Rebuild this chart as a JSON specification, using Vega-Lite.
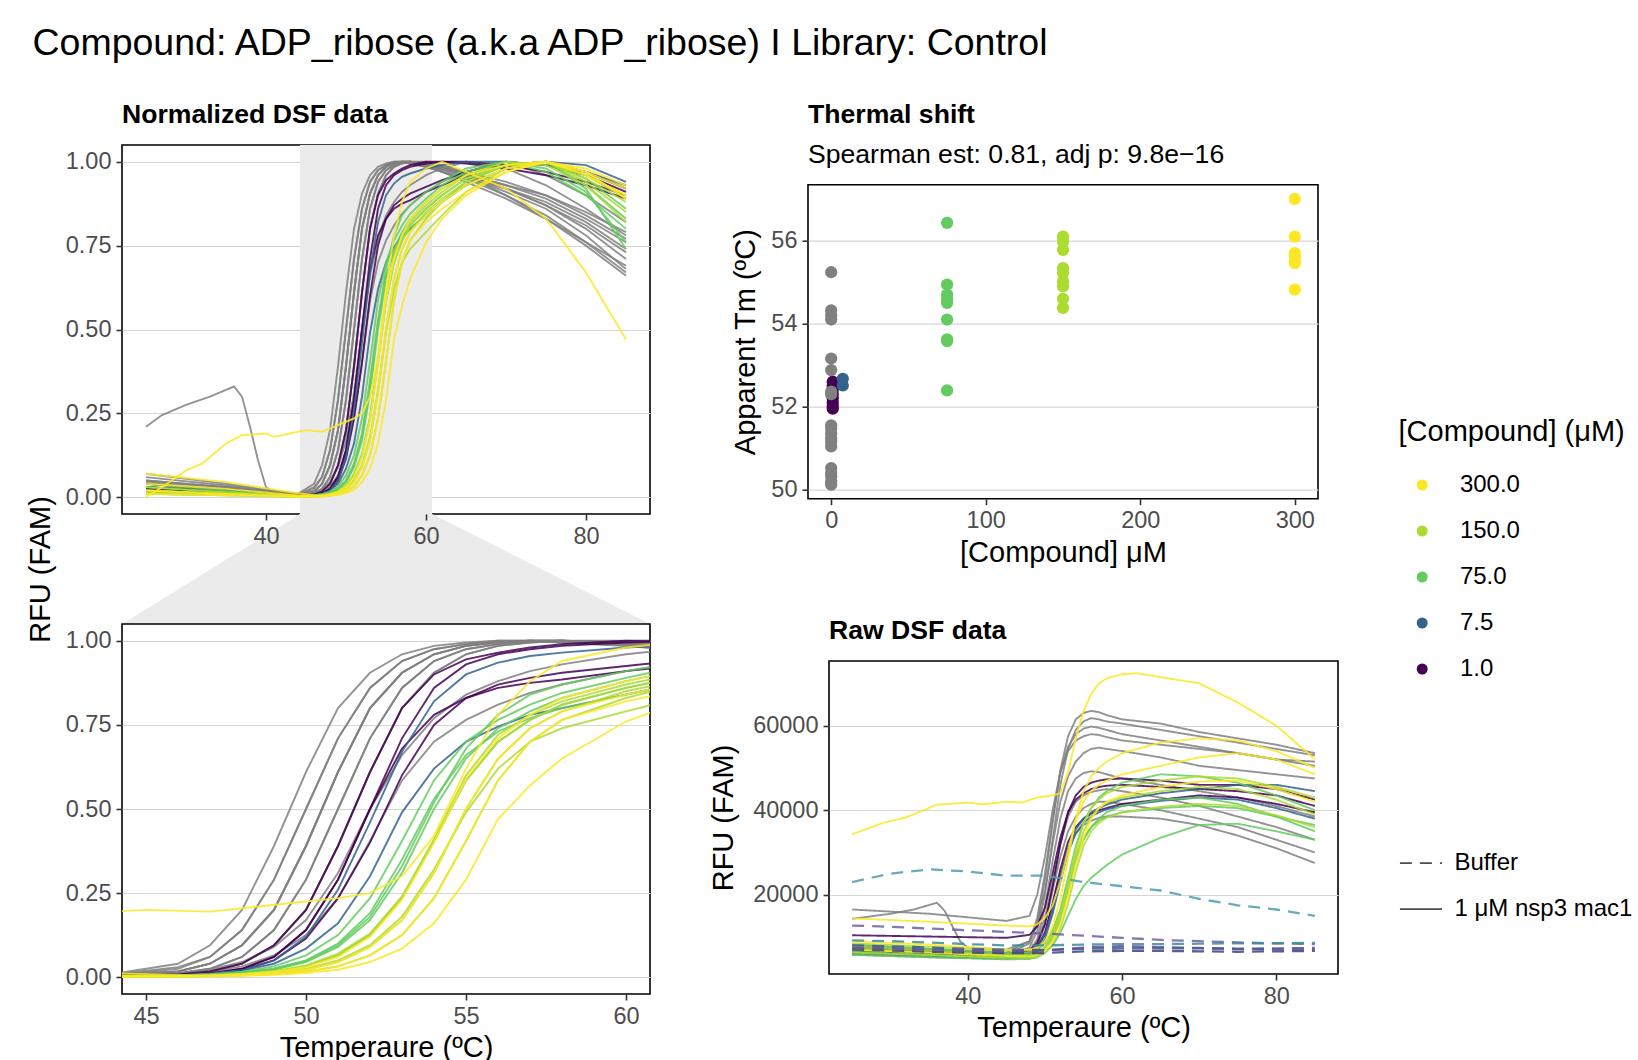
{
"$schema":"https://vega.github.io/schema/vega-lite/v6.json",
"padding":{"left":25,"top":25,"right":5,"bottom":5},
"background":"white",
"title":{"text":"Compound: ADP_ribose (a.k.a ADP_ribose) I Library: Control","fontSize":37.5,"fontWeight":"normal","frame":"bounds","anchor":"start","offset":39,"dx":7},
"config":{
"font":"Liberation Sans",
"view":{"stroke":"black","strokeWidth":1.6},
"axis":{"labelFont":"Liberation Sans","labelFontSize":23.5,"labelColor":"#4D4D4D","titleFont":"Liberation Sans","titleFontSize":29,"titleFontWeight":"normal","titleColor":"black","tickColor":"#333333","tickSize":6,"tickWidth":1.6,"domain":false,"grid":false,"labelPadding":4,"labelFlush":false,"gridColor":"#D6D6D6","gridWidth":1.2},
"axisY":{"grid":true,"labelPadding":5},
"title":{"anchor":"start","frame":"group","font":"Liberation Sans","fontSize":26.6,"fontWeight":"bold","color":"black","subtitleFont":"Liberation Sans","subtitleFontSize":26.6,"subtitleColor":"black"},
"legend":{"titleFont":"Liberation Sans","titleFontSize":29,"titleFontWeight":"normal","titleColor":"black","labelFont":"Liberation Sans","labelFontSize":24,"labelColor":"black","titleLimit":400,"labelLimit":400},
"line":{"strokeWidth":1.9,"opacity":0.85}
},
"datasets":{
"win":[{"t":44.25,"t2":60.75,"v":-0.05,"v2":1.05}],
"trap":[{"t":44.25,"t2":60.75,"v":-0.05},{"t":22,"t2":88,"v":-0.378}],
"curves":[{"i":"g1","c":"0"},{"i":"g2","c":"0"},{"i":"g3","c":"0"},{"i":"g4","c":"0"},{"i":"g5","c":"0"},{"i":"g6","c":"0"},{"i":"g7","c":"0"},{"i":"g8","c":"0"},{"i":"g9","c":"0"},{"i":"g10","c":"0"},{"i":"g11","c":"0"},{"i":"g12","c":"0"},{"i":"p1","c":"1.0"},{"i":"p2","c":"1.0"},{"i":"p3","c":"1.0"},{"i":"p4","c":"1.0"},{"i":"b1","c":"7.5"},{"i":"b2","c":"7.5"},{"i":"gr1","c":"75.0"},{"i":"gr2","c":"75.0"},{"i":"gr3","c":"75.0"},{"i":"gr4","c":"75.0"},{"i":"gr5","c":"75.0"},{"i":"l1","c":"150.0"},{"i":"l2","c":"150.0"},{"i":"l3","c":"150.0"},{"i":"l4","c":"150.0"},{"i":"l5","c":"150.0"},{"i":"y1","c":"300.0"},{"i":"y2","c":"300.0"},{"i":"y3","c":"300.0"},{"i":"y4","c":"300.0"},{"i":"y5","c":"300.0"},
{"i":"rg1","c":"0"},{"i":"rg2","c":"0"},{"i":"rg3","c":"0"},{"i":"rg4","c":"0"},{"i":"rg5","c":"0"},{"i":"rg6","c":"0"},{"i":"rg7","c":"0"},{"i":"rg8","c":"0"},{"i":"rg9","c":"0"},{"i":"rp1","c":"1.0"},{"i":"rp2","c":"1.0"},{"i":"rp3","c":"1.0"},{"i":"rb1","c":"7.5"},{"i":"rb2","c":"7.5"},{"i":"rgr1","c":"75.0"},{"i":"rgr2","c":"75.0"},{"i":"rgr3","c":"75.0"},{"i":"rgr4","c":"75.0"},{"i":"rl1","c":"150.0"},{"i":"rl2","c":"150.0"},{"i":"rl3","c":"150.0"},{"i":"ry1","c":"300.0"},{"i":"ry2","c":"300.0"},{"i":"ry3","c":"300.0"},{"i":"ry4","c":"300.0"},
{"i":"bt","c":"Bt"},{"i":"bp","c":"Bp"},{"i":"bt2","c":"Bt2"},{"i":"bb1","c":"Bb1"},{"i":"bb2","c":"Bb2"},{"i":"bp2","c":"Bp2"}],
"norm":[
{"i":"g1","t":25,"v":0.05},{"i":"g1","t":35,"v":0.03},{"i":"g1","t":44,"v":0.008},{"i":"g1","t":46,"v":0.03},{"i":"g1","t":47,"v":0.06},{"i":"g1","t":48,"v":0.14},{"i":"g1","t":49,"v":0.29},{"i":"g1","t":50,"v":0.5},{"i":"g1","t":51,"v":0.71},{"i":"g1","t":52,"v":0.86},{"i":"g1","t":53,"v":0.94},{"i":"g1","t":54,"v":0.975},{"i":"g1","t":55,"v":0.99},{"i":"g1","t":56,"v":0.997},{"i":"g1","t":57,"v":1},{"i":"g1","t":58,"v":1},{"i":"g1","t":60,"v":0.99},{"i":"g1","t":62,"v":0.975},{"i":"g1","t":65,"v":0.955},{"i":"g1","t":70,"v":0.91},{"i":"g1","t":75,"v":0.86},{"i":"g1","t":80,"v":0.78},{"i":"g1","t":85,"v":0.68},
{"i":"g2","t":25,"v":0.03},{"i":"g2","t":35,"v":0.02},{"i":"g2","t":44,"v":0.006},{"i":"g2","t":46,"v":0.025},{"i":"g2","t":47,"v":0.06},{"i":"g2","t":48,"v":0.14},{"i":"g2","t":49,"v":0.29},{"i":"g2","t":50,"v":0.5},{"i":"g2","t":51,"v":0.71},{"i":"g2","t":52,"v":0.86},{"i":"g2","t":53,"v":0.94},{"i":"g2","t":54,"v":0.975},{"i":"g2","t":55,"v":0.99},{"i":"g2","t":56,"v":1},{"i":"g2","t":57,"v":1},{"i":"g2","t":58,"v":0.995},{"i":"g2","t":60,"v":0.985},{"i":"g2","t":62,"v":0.97},{"i":"g2","t":65,"v":0.95},{"i":"g2","t":70,"v":0.92},{"i":"g2","t":75,"v":0.88},{"i":"g2","t":80,"v":0.82},{"i":"g2","t":85,"v":0.74},
{"i":"g3","t":25,"v":0.06},{"i":"g3","t":35,"v":0.035},{"i":"g3","t":44,"v":0.01},{"i":"g3","t":46,"v":0.017},{"i":"g3","t":47,"v":0.04},{"i":"g3","t":48,"v":0.095},{"i":"g3","t":49,"v":0.2},{"i":"g3","t":50,"v":0.39},{"i":"g3","t":51,"v":0.61},{"i":"g3","t":52,"v":0.8},{"i":"g3","t":53,"v":0.905},{"i":"g3","t":54,"v":0.96},{"i":"g3","t":55,"v":0.985},{"i":"g3","t":56,"v":0.995},{"i":"g3","t":57,"v":1},{"i":"g3","t":58,"v":1},{"i":"g3","t":60,"v":0.99},{"i":"g3","t":62,"v":0.98},{"i":"g3","t":65,"v":0.96},{"i":"g3","t":70,"v":0.93},{"i":"g3","t":75,"v":0.89},{"i":"g3","t":80,"v":0.83},{"i":"g3","t":85,"v":0.76},
{"i":"g4","t":25,"v":0.02},{"i":"g4","t":35,"v":0.015},{"i":"g4","t":44,"v":0.005},{"i":"g4","t":46,"v":0.017},{"i":"g4","t":47,"v":0.04},{"i":"g4","t":48,"v":0.095},{"i":"g4","t":49,"v":0.2},{"i":"g4","t":50,"v":0.39},{"i":"g4","t":51,"v":0.61},{"i":"g4","t":52,"v":0.8},{"i":"g4","t":53,"v":0.905},{"i":"g4","t":54,"v":0.96},{"i":"g4","t":55,"v":0.985},{"i":"g4","t":56,"v":0.995},{"i":"g4","t":57,"v":0.998},{"i":"g4","t":58,"v":1},{"i":"g4","t":60,"v":0.995},{"i":"g4","t":62,"v":0.985},{"i":"g4","t":65,"v":0.965},{"i":"g4","t":70,"v":0.92},{"i":"g4","t":75,"v":0.87},{"i":"g4","t":80,"v":0.8},{"i":"g4","t":85,"v":0.71},
{"i":"g5","t":25,"v":0.04},{"i":"g5","t":35,"v":0.025},{"i":"g5","t":44,"v":0.006},{"i":"g5","t":46,"v":0.011},{"i":"g5","t":47,"v":0.025},{"i":"g5","t":48,"v":0.06},{"i":"g5","t":49,"v":0.14},{"i":"g5","t":50,"v":0.29},{"i":"g5","t":51,"v":0.5},{"i":"g5","t":52,"v":0.71},{"i":"g5","t":53,"v":0.86},{"i":"g5","t":54,"v":0.94},{"i":"g5","t":55,"v":0.975},{"i":"g5","t":56,"v":0.99},{"i":"g5","t":57,"v":0.997},{"i":"g5","t":58,"v":1},{"i":"g5","t":60,"v":0.995},{"i":"g5","t":62,"v":0.985},{"i":"g5","t":65,"v":0.965},{"i":"g5","t":70,"v":0.93},{"i":"g5","t":75,"v":0.9},{"i":"g5","t":80,"v":0.85},{"i":"g5","t":85,"v":0.79},
{"i":"g6","t":25,"v":0.07},{"i":"g6","t":35,"v":0.04},{"i":"g6","t":44,"v":0.01},{"i":"g6","t":46,"v":0.012},{"i":"g6","t":47,"v":0.025},{"i":"g6","t":48,"v":0.06},{"i":"g6","t":49,"v":0.14},{"i":"g6","t":50,"v":0.29},{"i":"g6","t":51,"v":0.5},{"i":"g6","t":52,"v":0.71},{"i":"g6","t":53,"v":0.86},{"i":"g6","t":54,"v":0.94},{"i":"g6","t":55,"v":0.975},{"i":"g6","t":56,"v":0.99},{"i":"g6","t":57,"v":1},{"i":"g6","t":58,"v":1},{"i":"g6","t":60,"v":0.99},{"i":"g6","t":62,"v":0.98},{"i":"g6","t":65,"v":0.96},{"i":"g6","t":70,"v":0.9},{"i":"g6","t":75,"v":0.84},{"i":"g6","t":80,"v":0.76},{"i":"g6","t":85,"v":0.67},
{"i":"g7","t":25,"v":0.03},{"i":"g7","t":35,"v":0.02},{"i":"g7","t":44,"v":0.005},{"i":"g7","t":46,"v":0.008},{"i":"g7","t":47,"v":0.017},{"i":"g7","t":48,"v":0.04},{"i":"g7","t":49,"v":0.095},{"i":"g7","t":50,"v":0.2},{"i":"g7","t":51,"v":0.39},{"i":"g7","t":52,"v":0.61},{"i":"g7","t":53,"v":0.8},{"i":"g7","t":54,"v":0.905},{"i":"g7","t":55,"v":0.96},{"i":"g7","t":56,"v":0.985},{"i":"g7","t":57,"v":0.995},{"i":"g7","t":58,"v":1},{"i":"g7","t":60,"v":1},{"i":"g7","t":62,"v":0.99},{"i":"g7","t":65,"v":0.97},{"i":"g7","t":70,"v":0.94},{"i":"g7","t":75,"v":0.9},{"i":"g7","t":80,"v":0.84},{"i":"g7","t":85,"v":0.77},
{"i":"g8","t":25,"v":0.03},{"i":"g8","t":35,"v":0.015},{"i":"g8","t":44,"v":0.004},{"i":"g8","t":46,"v":0.012},{"i":"g8","t":47,"v":0.022},{"i":"g8","t":48,"v":0.045},{"i":"g8","t":49,"v":0.09},{"i":"g8","t":50,"v":0.17},{"i":"g8","t":51,"v":0.31},{"i":"g8","t":52,"v":0.5},{"i":"g8","t":53,"v":0.66},{"i":"g8","t":54,"v":0.77},{"i":"g8","t":55,"v":0.84},{"i":"g8","t":56,"v":0.88},{"i":"g8","t":57,"v":0.91},{"i":"g8","t":58,"v":0.93},{"i":"g8","t":60,"v":0.96},{"i":"g8","t":62,"v":0.98},{"i":"g8","t":65,"v":1},{"i":"g8","t":70,"v":0.98},{"i":"g8","t":75,"v":0.93},{"i":"g8","t":80,"v":0.86},{"i":"g8","t":85,"v":0.78},
{"i":"g9","t":25,"v":0.02},{"i":"g9","t":35,"v":0.01},{"i":"g9","t":44,"v":0.003},{"i":"g9","t":46,"v":0.009},{"i":"g9","t":47,"v":0.016},{"i":"g9","t":48,"v":0.032},{"i":"g9","t":49,"v":0.065},{"i":"g9","t":50,"v":0.125},{"i":"g9","t":51,"v":0.235},{"i":"g9","t":52,"v":0.405},{"i":"g9","t":53,"v":0.585},{"i":"g9","t":54,"v":0.7},{"i":"g9","t":55,"v":0.765},{"i":"g9","t":56,"v":0.81},{"i":"g9","t":57,"v":0.845},{"i":"g9","t":58,"v":0.87},{"i":"g9","t":60,"v":0.91},{"i":"g9","t":62,"v":0.94},{"i":"g9","t":65,"v":0.97},{"i":"g9","t":70,"v":1},{"i":"g9","t":75,"v":0.96},{"i":"g9","t":80,"v":0.9},{"i":"g9","t":85,"v":0.82},
{"i":"g10","t":25,"v":0.21},{"i":"g10","t":27,"v":0.245},{"i":"g10","t":30,"v":0.275},{"i":"g10","t":33,"v":0.3},{"i":"g10","t":35,"v":0.32},{"i":"g10","t":36,"v":0.33},{"i":"g10","t":37,"v":0.3},{"i":"g10","t":38,"v":0.21},{"i":"g10","t":39,"v":0.11},{"i":"g10","t":40,"v":0.03},{"i":"g10","t":41,"v":0.015},{"i":"g10","t":44,"v":0.005},{"i":"g10","t":46,"v":0.017},{"i":"g10","t":47,"v":0.04},{"i":"g10","t":48,"v":0.095},{"i":"g10","t":49,"v":0.2},{"i":"g10","t":50,"v":0.39},{"i":"g10","t":51,"v":0.61},{"i":"g10","t":52,"v":0.8},{"i":"g10","t":53,"v":0.905},{"i":"g10","t":54,"v":0.96},{"i":"g10","t":55,"v":0.985},{"i":"g10","t":56,"v":0.995},{"i":"g10","t":57,"v":1},{"i":"g10","t":58,"v":1},{"i":"g10","t":60,"v":0.99},{"i":"g10","t":62,"v":0.97},{"i":"g10","t":65,"v":0.95},{"i":"g10","t":70,"v":0.9},{"i":"g10","t":75,"v":0.83},{"i":"g10","t":80,"v":0.75},{"i":"g10","t":85,"v":0.66},
{"i":"g11","t":25,"v":0.045},{"i":"g11","t":35,"v":0.03},{"i":"g11","t":44,"v":0.01},{"i":"g11","t":46,"v":0.04},{"i":"g11","t":47,"v":0.095},{"i":"g11","t":48,"v":0.2},{"i":"g11","t":49,"v":0.39},{"i":"g11","t":50,"v":0.61},{"i":"g11","t":51,"v":0.8},{"i":"g11","t":52,"v":0.905},{"i":"g11","t":53,"v":0.96},{"i":"g11","t":54,"v":0.985},{"i":"g11","t":55,"v":0.995},{"i":"g11","t":56,"v":1},{"i":"g11","t":57,"v":1},{"i":"g11","t":58,"v":0.995},{"i":"g11","t":60,"v":0.985},{"i":"g11","t":62,"v":0.97},{"i":"g11","t":65,"v":0.94},{"i":"g11","t":70,"v":0.89},{"i":"g11","t":75,"v":0.83},{"i":"g11","t":80,"v":0.76},{"i":"g11","t":85,"v":0.69},
{"i":"g12","t":25,"v":0.05},{"i":"g12","t":35,"v":0.03},{"i":"g12","t":44,"v":0.008},{"i":"g12","t":46,"v":0.008},{"i":"g12","t":47,"v":0.017},{"i":"g12","t":48,"v":0.04},{"i":"g12","t":49,"v":0.095},{"i":"g12","t":50,"v":0.2},{"i":"g12","t":51,"v":0.39},{"i":"g12","t":52,"v":0.61},{"i":"g12","t":53,"v":0.8},{"i":"g12","t":54,"v":0.905},{"i":"g12","t":55,"v":0.96},{"i":"g12","t":56,"v":0.985},{"i":"g12","t":57,"v":0.995},{"i":"g12","t":58,"v":1},{"i":"g12","t":60,"v":0.995},{"i":"g12","t":62,"v":0.985},{"i":"g12","t":65,"v":0.96},{"i":"g12","t":70,"v":0.92},{"i":"g12","t":75,"v":0.87},{"i":"g12","t":80,"v":0.81},{"i":"g12","t":85,"v":0.73},
{"i":"p1","t":25,"v":0.03},{"i":"p1","t":35,"v":0.015},{"i":"p1","t":44,"v":0.004},{"i":"p1","t":46,"v":0.006},{"i":"p1","t":47,"v":0.011},{"i":"p1","t":48,"v":0.025},{"i":"p1","t":49,"v":0.06},{"i":"p1","t":50,"v":0.14},{"i":"p1","t":51,"v":0.29},{"i":"p1","t":52,"v":0.5},{"i":"p1","t":53,"v":0.71},{"i":"p1","t":54,"v":0.86},{"i":"p1","t":55,"v":0.93},{"i":"p1","t":56,"v":0.96},{"i":"p1","t":57,"v":0.975},{"i":"p1","t":58,"v":0.985},{"i":"p1","t":60,"v":0.995},{"i":"p1","t":62,"v":1},{"i":"p1","t":65,"v":1},{"i":"p1","t":70,"v":0.99},{"i":"p1","t":75,"v":0.97},{"i":"p1","t":80,"v":0.94},{"i":"p1","t":85,"v":0.9},
{"i":"p2","t":25,"v":0.02},{"i":"p2","t":35,"v":0.01},{"i":"p2","t":44,"v":0.003},{"i":"p2","t":46,"v":0.008},{"i":"p2","t":47,"v":0.017},{"i":"p2","t":48,"v":0.04},{"i":"p2","t":49,"v":0.095},{"i":"p2","t":50,"v":0.2},{"i":"p2","t":51,"v":0.39},{"i":"p2","t":52,"v":0.61},{"i":"p2","t":53,"v":0.8},{"i":"p2","t":54,"v":0.9},{"i":"p2","t":55,"v":0.945},{"i":"p2","t":56,"v":0.965},{"i":"p2","t":57,"v":0.98},{"i":"p2","t":58,"v":0.99},{"i":"p2","t":60,"v":1},{"i":"p2","t":62,"v":1},{"i":"p2","t":65,"v":0.995},{"i":"p2","t":70,"v":0.98},{"i":"p2","t":75,"v":0.96},{"i":"p2","t":80,"v":0.93},{"i":"p2","t":85,"v":0.89},
{"i":"p3","t":25,"v":0.025},{"i":"p3","t":35,"v":0.012},{"i":"p3","t":44,"v":0.003},{"i":"p3","t":46,"v":0.006},{"i":"p3","t":47,"v":0.011},{"i":"p3","t":48,"v":0.025},{"i":"p3","t":49,"v":0.06},{"i":"p3","t":50,"v":0.14},{"i":"p3","t":51,"v":0.29},{"i":"p3","t":52,"v":0.5},{"i":"p3","t":53,"v":0.68},{"i":"p3","t":54,"v":0.78},{"i":"p3","t":55,"v":0.83},{"i":"p3","t":56,"v":0.86},{"i":"p3","t":57,"v":0.875},{"i":"p3","t":58,"v":0.885},{"i":"p3","t":60,"v":0.91},{"i":"p3","t":62,"v":0.93},{"i":"p3","t":65,"v":0.96},{"i":"p3","t":70,"v":0.99},{"i":"p3","t":75,"v":1},{"i":"p3","t":80,"v":0.97},{"i":"p3","t":85,"v":0.92},
{"i":"p4","t":25,"v":0.04},{"i":"p4","t":35,"v":0.02},{"i":"p4","t":44,"v":0.005},{"i":"p4","t":46,"v":0.006},{"i":"p4","t":47,"v":0.01},{"i":"p4","t":48,"v":0.022},{"i":"p4","t":49,"v":0.05},{"i":"p4","t":50,"v":0.115},{"i":"p4","t":51,"v":0.235},{"i":"p4","t":52,"v":0.4},{"i":"p4","t":53,"v":0.6},{"i":"p4","t":54,"v":0.75},{"i":"p4","t":55,"v":0.83},{"i":"p4","t":56,"v":0.87},{"i":"p4","t":57,"v":0.89},{"i":"p4","t":58,"v":0.905},{"i":"p4","t":60,"v":0.925},{"i":"p4","t":62,"v":0.945},{"i":"p4","t":65,"v":0.97},{"i":"p4","t":70,"v":1},{"i":"p4","t":75,"v":0.99},{"i":"p4","t":80,"v":0.96},{"i":"p4","t":85,"v":0.91},
{"i":"b1","t":25,"v":0.02},{"i":"b1","t":35,"v":0.012},{"i":"b1","t":44,"v":0.003},{"i":"b1","t":46,"v":0.005},{"i":"b1","t":47,"v":0.01},{"i":"b1","t":48,"v":0.02},{"i":"b1","t":49,"v":0.05},{"i":"b1","t":50,"v":0.12},{"i":"b1","t":51,"v":0.26},{"i":"b1","t":52,"v":0.46},{"i":"b1","t":53,"v":0.67},{"i":"b1","t":54,"v":0.82},{"i":"b1","t":55,"v":0.9},{"i":"b1","t":56,"v":0.935},{"i":"b1","t":57,"v":0.955},{"i":"b1","t":58,"v":0.965},{"i":"b1","t":60,"v":0.98},{"i":"b1","t":62,"v":0.99},{"i":"b1","t":65,"v":1},{"i":"b1","t":70,"v":1},{"i":"b1","t":75,"v":0.99},{"i":"b1","t":80,"v":0.97},{"i":"b1","t":85,"v":0.93},
{"i":"b2","t":25,"v":0.03},{"i":"b2","t":35,"v":0.018},{"i":"b2","t":44,"v":0.004},{"i":"b2","t":46,"v":0.006},{"i":"b2","t":47,"v":0.01},{"i":"b2","t":48,"v":0.02},{"i":"b2","t":49,"v":0.04},{"i":"b2","t":50,"v":0.085},{"i":"b2","t":51,"v":0.16},{"i":"b2","t":52,"v":0.3},{"i":"b2","t":53,"v":0.49},{"i":"b2","t":54,"v":0.62},{"i":"b2","t":55,"v":0.7},{"i":"b2","t":56,"v":0.745},{"i":"b2","t":57,"v":0.78},{"i":"b2","t":58,"v":0.8},{"i":"b2","t":60,"v":0.84},{"i":"b2","t":62,"v":0.88},{"i":"b2","t":65,"v":0.93},{"i":"b2","t":70,"v":0.98},{"i":"b2","t":75,"v":1},{"i":"b2","t":80,"v":0.99},{"i":"b2","t":85,"v":0.94},
{"i":"gr1","t":25,"v":0.02},{"i":"gr1","t":35,"v":0.01},{"i":"gr1","t":44,"v":0.003},{"i":"gr1","t":46,"v":0.005},{"i":"gr1","t":47,"v":0.009},{"i":"gr1","t":48,"v":0.016},{"i":"gr1","t":49,"v":0.032},{"i":"gr1","t":50,"v":0.065},{"i":"gr1","t":51,"v":0.125},{"i":"gr1","t":52,"v":0.235},{"i":"gr1","t":53,"v":0.405},{"i":"gr1","t":54,"v":0.585},{"i":"gr1","t":55,"v":0.7},{"i":"gr1","t":56,"v":0.765},{"i":"gr1","t":57,"v":0.81},{"i":"gr1","t":58,"v":0.845},{"i":"gr1","t":60,"v":0.89},{"i":"gr1","t":62,"v":0.93},{"i":"gr1","t":65,"v":0.97},{"i":"gr1","t":70,"v":1},{"i":"gr1","t":75,"v":0.97},{"i":"gr1","t":80,"v":0.9},{"i":"gr1","t":85,"v":0.8},
{"i":"gr2","t":25,"v":0.015},{"i":"gr2","t":35,"v":0.008},{"i":"gr2","t":44,"v":0.002},{"i":"gr2","t":46,"v":0.004},{"i":"gr2","t":47,"v":0.007},{"i":"gr2","t":48,"v":0.012},{"i":"gr2","t":49,"v":0.022},{"i":"gr2","t":50,"v":0.045},{"i":"gr2","t":51,"v":0.09},{"i":"gr2","t":52,"v":0.17},{"i":"gr2","t":53,"v":0.31},{"i":"gr2","t":54,"v":0.5},{"i":"gr2","t":55,"v":0.65},{"i":"gr2","t":56,"v":0.74},{"i":"gr2","t":57,"v":0.79},{"i":"gr2","t":58,"v":0.83},{"i":"gr2","t":60,"v":0.88},{"i":"gr2","t":62,"v":0.92},{"i":"gr2","t":65,"v":0.96},{"i":"gr2","t":70,"v":0.99},{"i":"gr2","t":75,"v":1},{"i":"gr2","t":80,"v":0.93},{"i":"gr2","t":85,"v":0.83},
{"i":"gr3","t":25,"v":0.03},{"i":"gr3","t":35,"v":0.015},{"i":"gr3","t":44,"v":0.004},{"i":"gr3","t":46,"v":0.005},{"i":"gr3","t":47,"v":0.008},{"i":"gr3","t":48,"v":0.013},{"i":"gr3","t":49,"v":0.024},{"i":"gr3","t":50,"v":0.048},{"i":"gr3","t":51,"v":0.095},{"i":"gr3","t":52,"v":0.18},{"i":"gr3","t":53,"v":0.33},{"i":"gr3","t":54,"v":0.52},{"i":"gr3","t":55,"v":0.68},{"i":"gr3","t":56,"v":0.78},{"i":"gr3","t":57,"v":0.84},{"i":"gr3","t":58,"v":0.87},{"i":"gr3","t":60,"v":0.91},{"i":"gr3","t":62,"v":0.94},{"i":"gr3","t":65,"v":0.98},{"i":"gr3","t":70,"v":1},{"i":"gr3","t":75,"v":0.98},{"i":"gr3","t":80,"v":0.91},{"i":"gr3","t":85,"v":0.76},
{"i":"gr4","t":25,"v":0.01},{"i":"gr4","t":35,"v":0.006},{"i":"gr4","t":44,"v":0.002},{"i":"gr4","t":46,"v":0.003},{"i":"gr4","t":47,"v":0.005},{"i":"gr4","t":48,"v":0.009},{"i":"gr4","t":49,"v":0.016},{"i":"gr4","t":50,"v":0.032},{"i":"gr4","t":51,"v":0.065},{"i":"gr4","t":52,"v":0.125},{"i":"gr4","t":53,"v":0.235},{"i":"gr4","t":54,"v":0.405},{"i":"gr4","t":55,"v":0.585},{"i":"gr4","t":56,"v":0.7},{"i":"gr4","t":57,"v":0.765},{"i":"gr4","t":58,"v":0.81},{"i":"gr4","t":60,"v":0.86},{"i":"gr4","t":62,"v":0.9},{"i":"gr4","t":65,"v":0.95},{"i":"gr4","t":70,"v":0.99},{"i":"gr4","t":75,"v":1},{"i":"gr4","t":80,"v":0.95},{"i":"gr4","t":85,"v":0.86},
{"i":"gr5","t":25,"v":0.04},{"i":"gr5","t":35,"v":0.02},{"i":"gr5","t":44,"v":0.004},{"i":"gr5","t":46,"v":0.005},{"i":"gr5","t":47,"v":0.008},{"i":"gr5","t":48,"v":0.014},{"i":"gr5","t":49,"v":0.026},{"i":"gr5","t":50,"v":0.05},{"i":"gr5","t":51,"v":0.1},{"i":"gr5","t":52,"v":0.19},{"i":"gr5","t":53,"v":0.35},{"i":"gr5","t":54,"v":0.53},{"i":"gr5","t":55,"v":0.66},{"i":"gr5","t":56,"v":0.73},{"i":"gr5","t":57,"v":0.77},{"i":"gr5","t":58,"v":0.8},{"i":"gr5","t":60,"v":0.84},{"i":"gr5","t":62,"v":0.88},{"i":"gr5","t":65,"v":0.94},{"i":"gr5","t":70,"v":0.99},{"i":"gr5","t":75,"v":1},{"i":"gr5","t":80,"v":0.92},{"i":"gr5","t":85,"v":0.74},
{"i":"l1","t":25,"v":0.02},{"i":"l1","t":35,"v":0.01},{"i":"l1","t":44,"v":0.002},{"i":"l1","t":46,"v":0.003},{"i":"l1","t":47,"v":0.005},{"i":"l1","t":48,"v":0.009},{"i":"l1","t":49,"v":0.016},{"i":"l1","t":50,"v":0.032},{"i":"l1","t":51,"v":0.065},{"i":"l1","t":52,"v":0.125},{"i":"l1","t":53,"v":0.235},{"i":"l1","t":54,"v":0.405},{"i":"l1","t":55,"v":0.585},{"i":"l1","t":56,"v":0.7},{"i":"l1","t":57,"v":0.765},{"i":"l1","t":58,"v":0.81},{"i":"l1","t":60,"v":0.86},{"i":"l1","t":62,"v":0.9},{"i":"l1","t":65,"v":0.95},{"i":"l1","t":70,"v":0.99},{"i":"l1","t":75,"v":1},{"i":"l1","t":80,"v":0.95},{"i":"l1","t":85,"v":0.88},
{"i":"l2","t":25,"v":0.01},{"i":"l2","t":35,"v":0.006},{"i":"l2","t":44,"v":0.001},{"i":"l2","t":46,"v":0.002},{"i":"l2","t":47,"v":0.004},{"i":"l2","t":48,"v":0.007},{"i":"l2","t":49,"v":0.012},{"i":"l2","t":50,"v":0.022},{"i":"l2","t":51,"v":0.045},{"i":"l2","t":52,"v":0.09},{"i":"l2","t":53,"v":0.17},{"i":"l2","t":54,"v":0.31},{"i":"l2","t":55,"v":0.5},{"i":"l2","t":56,"v":0.65},{"i":"l2","t":57,"v":0.74},{"i":"l2","t":58,"v":0.79},{"i":"l2","t":60,"v":0.85},{"i":"l2","t":62,"v":0.89},{"i":"l2","t":65,"v":0.94},{"i":"l2","t":70,"v":0.99},{"i":"l2","t":75,"v":1},{"i":"l2","t":80,"v":0.96},{"i":"l2","t":85,"v":0.9},
{"i":"l3","t":25,"v":0.03},{"i":"l3","t":35,"v":0.015},{"i":"l3","t":44,"v":0.003},{"i":"l3","t":46,"v":0.003},{"i":"l3","t":47,"v":0.005},{"i":"l3","t":48,"v":0.008},{"i":"l3","t":49,"v":0.014},{"i":"l3","t":50,"v":0.025},{"i":"l3","t":51,"v":0.05},{"i":"l3","t":52,"v":0.095},{"i":"l3","t":53,"v":0.18},{"i":"l3","t":54,"v":0.32},{"i":"l3","t":55,"v":0.49},{"i":"l3","t":56,"v":0.62},{"i":"l3","t":57,"v":0.7},{"i":"l3","t":58,"v":0.74},{"i":"l3","t":60,"v":0.79},{"i":"l3","t":62,"v":0.84},{"i":"l3","t":65,"v":0.91},{"i":"l3","t":70,"v":0.98},{"i":"l3","t":75,"v":1},{"i":"l3","t":80,"v":0.94},{"i":"l3","t":85,"v":0.85},
{"i":"l4","t":25,"v":0.015},{"i":"l4","t":35,"v":0.008},{"i":"l4","t":44,"v":0.002},{"i":"l4","t":46,"v":0.003},{"i":"l4","t":47,"v":0.005},{"i":"l4","t":48,"v":0.01},{"i":"l4","t":49,"v":0.018},{"i":"l4","t":50,"v":0.035},{"i":"l4","t":51,"v":0.07},{"i":"l4","t":52,"v":0.13},{"i":"l4","t":53,"v":0.24},{"i":"l4","t":54,"v":0.41},{"i":"l4","t":55,"v":0.6},{"i":"l4","t":56,"v":0.72},{"i":"l4","t":57,"v":0.78},{"i":"l4","t":58,"v":0.82},{"i":"l4","t":60,"v":0.87},{"i":"l4","t":62,"v":0.91},{"i":"l4","t":65,"v":0.96},{"i":"l4","t":70,"v":1},{"i":"l4","t":75,"v":0.99},{"i":"l4","t":80,"v":0.93},{"i":"l4","t":85,"v":0.82},
{"i":"l5","t":25,"v":0.02},{"i":"l5","t":35,"v":0.01},{"i":"l5","t":44,"v":0.002},{"i":"l5","t":46,"v":0.002},{"i":"l5","t":47,"v":0.003},{"i":"l5","t":48,"v":0.005},{"i":"l5","t":49,"v":0.009},{"i":"l5","t":50,"v":0.016},{"i":"l5","t":51,"v":0.032},{"i":"l5","t":52,"v":0.065},{"i":"l5","t":53,"v":0.125},{"i":"l5","t":54,"v":0.235},{"i":"l5","t":55,"v":0.405},{"i":"l5","t":56,"v":0.585},{"i":"l5","t":57,"v":0.7},{"i":"l5","t":58,"v":0.765},{"i":"l5","t":60,"v":0.83},{"i":"l5","t":62,"v":0.88},{"i":"l5","t":65,"v":0.93},{"i":"l5","t":70,"v":0.98},{"i":"l5","t":75,"v":1},{"i":"l5","t":80,"v":0.96},{"i":"l5","t":85,"v":0.89},
{"i":"y1","t":25,"v":0.04},{"i":"y1","t":35,"v":0.025},{"i":"y1","t":44,"v":0.005},{"i":"y1","t":46,"v":0.003},{"i":"y1","t":47,"v":0.005},{"i":"y1","t":48,"v":0.009},{"i":"y1","t":49,"v":0.016},{"i":"y1","t":50,"v":0.03},{"i":"y1","t":51,"v":0.06},{"i":"y1","t":52,"v":0.12},{"i":"y1","t":53,"v":0.23},{"i":"y1","t":54,"v":0.4},{"i":"y1","t":55,"v":0.59},{"i":"y1","t":56,"v":0.71},{"i":"y1","t":57,"v":0.78},{"i":"y1","t":58,"v":0.83},{"i":"y1","t":60,"v":0.88},{"i":"y1","t":62,"v":0.92},{"i":"y1","t":65,"v":0.96},{"i":"y1","t":70,"v":0.99},{"i":"y1","t":75,"v":1},{"i":"y1","t":80,"v":0.96},{"i":"y1","t":85,"v":0.9},
{"i":"y2","t":25,"v":0.01},{"i":"y2","t":35,"v":0.006},{"i":"y2","t":44,"v":0.001},{"i":"y2","t":46,"v":0.002},{"i":"y2","t":47,"v":0.004},{"i":"y2","t":48,"v":0.007},{"i":"y2","t":49,"v":0.012},{"i":"y2","t":50,"v":0.022},{"i":"y2","t":51,"v":0.045},{"i":"y2","t":52,"v":0.09},{"i":"y2","t":53,"v":0.17},{"i":"y2","t":54,"v":0.31},{"i":"y2","t":55,"v":0.5},{"i":"y2","t":56,"v":0.65},{"i":"y2","t":57,"v":0.74},{"i":"y2","t":58,"v":0.79},{"i":"y2","t":60,"v":0.84},{"i":"y2","t":62,"v":0.88},{"i":"y2","t":65,"v":0.93},{"i":"y2","t":70,"v":0.98},{"i":"y2","t":75,"v":1},{"i":"y2","t":80,"v":0.97},{"i":"y2","t":85,"v":0.92},
{"i":"y3","t":25,"v":0.07},{"i":"y3","t":35,"v":0.045},{"i":"y3","t":44,"v":0.012},{"i":"y3","t":46,"v":0.006},{"i":"y3","t":47,"v":0.004},{"i":"y3","t":48,"v":0.005},{"i":"y3","t":49,"v":0.009},{"i":"y3","t":50,"v":0.016},{"i":"y3","t":51,"v":0.032},{"i":"y3","t":52,"v":0.065},{"i":"y3","t":53,"v":0.125},{"i":"y3","t":54,"v":0.235},{"i":"y3","t":55,"v":0.405},{"i":"y3","t":56,"v":0.585},{"i":"y3","t":57,"v":0.7},{"i":"y3","t":58,"v":0.765},{"i":"y3","t":60,"v":0.82},{"i":"y3","t":62,"v":0.86},{"i":"y3","t":65,"v":0.91},{"i":"y3","t":70,"v":0.97},{"i":"y3","t":75,"v":1},{"i":"y3","t":80,"v":0.98},{"i":"y3","t":85,"v":0.93},
{"i":"y4","t":25,"v":0.02},{"i":"y4","t":35,"v":0.01},{"i":"y4","t":44,"v":0.002},{"i":"y4","t":46,"v":0.001},{"i":"y4","t":47,"v":0.002},{"i":"y4","t":48,"v":0.004},{"i":"y4","t":49,"v":0.007},{"i":"y4","t":50,"v":0.012},{"i":"y4","t":51,"v":0.022},{"i":"y4","t":52,"v":0.045},{"i":"y4","t":53,"v":0.085},{"i":"y4","t":54,"v":0.16},{"i":"y4","t":55,"v":0.29},{"i":"y4","t":56,"v":0.47},{"i":"y4","t":57,"v":0.57},{"i":"y4","t":58,"v":0.65},{"i":"y4","t":60,"v":0.76},{"i":"y4","t":62,"v":0.83},{"i":"y4","t":65,"v":0.9},{"i":"y4","t":70,"v":0.97},{"i":"y4","t":75,"v":1},{"i":"y4","t":80,"v":0.97},{"i":"y4","t":85,"v":0.89},
{"i":"y5","t":25,"v":0},{"i":"y5","t":27,"v":0.03},{"i":"y5","t":30,"v":0.08},{"i":"y5","t":32,"v":0.1},{"i":"y5","t":35,"v":0.16},{"i":"y5","t":37,"v":0.185},{"i":"y5","t":40,"v":0.19},{"i":"y5","t":41,"v":0.18},{"i":"y5","t":43,"v":0.19},{"i":"y5","t":45,"v":0.2},{"i":"y5","t":47,"v":0.195},{"i":"y5","t":48,"v":0.205},{"i":"y5","t":50,"v":0.225},{"i":"y5","t":51,"v":0.235},{"i":"y5","t":52,"v":0.25},{"i":"y5","t":53,"v":0.3},{"i":"y5","t":54,"v":0.42},{"i":"y5","t":55,"v":0.62},{"i":"y5","t":56,"v":0.78},{"i":"y5","t":57,"v":0.88},{"i":"y5","t":58,"v":0.94},{"i":"y5","t":60,"v":0.98},{"i":"y5","t":62,"v":1},{"i":"y5","t":65,"v":0.97},{"i":"y5","t":70,"v":0.92},{"i":"y5","t":75,"v":0.83},{"i":"y5","t":80,"v":0.67},{"i":"y5","t":85,"v":0.47}
],
"raw":[
{"i":"rg1","t":25,"v":7200},{"i":"rg1","t":35,"v":6300},{"i":"rg1","t":45,"v":5700},{"i":"rg1","t":48,"v":8500},{"i":"rg1","t":49,"v":13500},{"i":"rg1","t":50,"v":23500},{"i":"rg1","t":51,"v":37000},{"i":"rg1","t":52,"v":49500},{"i":"rg1","t":53,"v":57500},{"i":"rg1","t":54,"v":61500},{"i":"rg1","t":55,"v":63000},{"i":"rg1","t":56,"v":63500},{"i":"rg1","t":57,"v":63200},{"i":"rg1","t":58,"v":62500},{"i":"rg1","t":60,"v":61500},{"i":"rg1","t":65,"v":60500},{"i":"rg1","t":70,"v":58500},{"i":"rg1","t":75,"v":57000},{"i":"rg1","t":80,"v":55500},{"i":"rg1","t":85,"v":53500},
{"i":"rg2","t":25,"v":6800},{"i":"rg2","t":35,"v":6000},{"i":"rg2","t":45,"v":5400},{"i":"rg2","t":48,"v":7500},{"i":"rg2","t":49,"v":11500},{"i":"rg2","t":50,"v":20000},{"i":"rg2","t":51,"v":33000},{"i":"rg2","t":52,"v":46000},{"i":"rg2","t":53,"v":54500},{"i":"rg2","t":54,"v":59000},{"i":"rg2","t":55,"v":61000},{"i":"rg2","t":56,"v":61800},{"i":"rg2","t":57,"v":61500},{"i":"rg2","t":58,"v":61000},{"i":"rg2","t":60,"v":60500},{"i":"rg2","t":65,"v":59000},{"i":"rg2","t":70,"v":57500},{"i":"rg2","t":75,"v":56000},{"i":"rg2","t":80,"v":54500},{"i":"rg2","t":85,"v":53000},
{"i":"rg3","t":25,"v":8200},{"i":"rg3","t":35,"v":7200},{"i":"rg3","t":45,"v":6300},{"i":"rg3","t":48,"v":9000},{"i":"rg3","t":49,"v":14500},{"i":"rg3","t":50,"v":25000},{"i":"rg3","t":51,"v":38000},{"i":"rg3","t":52,"v":49000},{"i":"rg3","t":53,"v":55000},{"i":"rg3","t":54,"v":58000},{"i":"rg3","t":55,"v":59300},{"i":"rg3","t":56,"v":59800},{"i":"rg3","t":57,"v":59500},{"i":"rg3","t":58,"v":59000},{"i":"rg3","t":60,"v":58000},{"i":"rg3","t":65,"v":56500},{"i":"rg3","t":70,"v":55000},{"i":"rg3","t":75,"v":53500},{"i":"rg3","t":80,"v":52000},{"i":"rg3","t":85,"v":50500},
{"i":"rg4","t":25,"v":16500},{"i":"rg4","t":35,"v":15500},{"i":"rg4","t":45,"v":13800},{"i":"rg4","t":48,"v":15000},{"i":"rg4","t":49,"v":20000},{"i":"rg4","t":50,"v":29000},{"i":"rg4","t":51,"v":40000},{"i":"rg4","t":52,"v":49000},{"i":"rg4","t":53,"v":54000},{"i":"rg4","t":54,"v":56500},{"i":"rg4","t":55,"v":57500},{"i":"rg4","t":56,"v":58000},{"i":"rg4","t":57,"v":57800},{"i":"rg4","t":58,"v":57300},{"i":"rg4","t":60,"v":56500},{"i":"rg4","t":65,"v":55500},{"i":"rg4","t":70,"v":54500},{"i":"rg4","t":75,"v":53500},{"i":"rg4","t":80,"v":52000},{"i":"rg4","t":85,"v":51500},
{"i":"rg5","t":25,"v":14300},{"i":"rg5","t":30,"v":15500},{"i":"rg5","t":33,"v":16500},{"i":"rg5","t":36,"v":18100},{"i":"rg5","t":37,"v":16200},{"i":"rg5","t":38,"v":12500},{"i":"rg5","t":39,"v":9000},{"i":"rg5","t":40,"v":7500},{"i":"rg5","t":45,"v":7000},{"i":"rg5","t":48,"v":9000},{"i":"rg5","t":49,"v":13000},{"i":"rg5","t":50,"v":21000},{"i":"rg5","t":51,"v":32000},{"i":"rg5","t":52,"v":42000},{"i":"rg5","t":53,"v":48000},{"i":"rg5","t":54,"v":51500},{"i":"rg5","t":55,"v":53500},{"i":"rg5","t":56,"v":54500},{"i":"rg5","t":57,"v":54800},{"i":"rg5","t":58,"v":54500},{"i":"rg5","t":60,"v":54000},{"i":"rg5","t":65,"v":52500},{"i":"rg5","t":70,"v":50500},{"i":"rg5","t":75,"v":49500},{"i":"rg5","t":80,"v":48500},{"i":"rg5","t":85,"v":47500},
{"i":"rg6","t":25,"v":6000},{"i":"rg6","t":35,"v":5500},{"i":"rg6","t":45,"v":5000},{"i":"rg6","t":48,"v":6500},{"i":"rg6","t":49,"v":9500},{"i":"rg6","t":50,"v":17000},{"i":"rg6","t":51,"v":28000},{"i":"rg6","t":52,"v":38000},{"i":"rg6","t":53,"v":44500},{"i":"rg6","t":54,"v":47500},{"i":"rg6","t":55,"v":48800},{"i":"rg6","t":56,"v":49200},{"i":"rg6","t":57,"v":49000},{"i":"rg6","t":58,"v":48500},{"i":"rg6","t":60,"v":47500},{"i":"rg6","t":65,"v":46000},{"i":"rg6","t":70,"v":44500},{"i":"rg6","t":75,"v":43000},{"i":"rg6","t":80,"v":41000},{"i":"rg6","t":85,"v":38500},
{"i":"rg7","t":25,"v":6200},{"i":"rg7","t":35,"v":5600},{"i":"rg7","t":45,"v":5000},{"i":"rg7","t":48,"v":6000},{"i":"rg7","t":49,"v":8000},{"i":"rg7","t":50,"v":13000},{"i":"rg7","t":51,"v":21000},{"i":"rg7","t":52,"v":29000},{"i":"rg7","t":53,"v":35000},{"i":"rg7","t":54,"v":38500},{"i":"rg7","t":55,"v":40500},{"i":"rg7","t":56,"v":41500},{"i":"rg7","t":57,"v":42000},{"i":"rg7","t":58,"v":42000},{"i":"rg7","t":60,"v":41500},{"i":"rg7","t":65,"v":40000},{"i":"rg7","t":70,"v":38000},{"i":"rg7","t":75,"v":36000},{"i":"rg7","t":80,"v":33000},{"i":"rg7","t":85,"v":30000},
{"i":"rg8","t":25,"v":5800},{"i":"rg8","t":35,"v":5200},{"i":"rg8","t":45,"v":4800},{"i":"rg8","t":48,"v":5500},{"i":"rg8","t":49,"v":7000},{"i":"rg8","t":50,"v":11000},{"i":"rg8","t":51,"v":17500},{"i":"rg8","t":52,"v":25000},{"i":"rg8","t":53,"v":31000},{"i":"rg8","t":54,"v":34500},{"i":"rg8","t":55,"v":36500},{"i":"rg8","t":56,"v":37500},{"i":"rg8","t":57,"v":38200},{"i":"rg8","t":58,"v":38500},{"i":"rg8","t":60,"v":38500},{"i":"rg8","t":65,"v":38000},{"i":"rg8","t":70,"v":36500},{"i":"rg8","t":75,"v":34000},{"i":"rg8","t":80,"v":31000},{"i":"rg8","t":85,"v":27500},
{"i":"rg9","t":25,"v":7000},{"i":"rg9","t":35,"v":6200},{"i":"rg9","t":45,"v":5500},{"i":"rg9","t":48,"v":6800},{"i":"rg9","t":49,"v":9000},{"i":"rg9","t":50,"v":14500},{"i":"rg9","t":51,"v":23000},{"i":"rg9","t":52,"v":32000},{"i":"rg9","t":53,"v":38500},{"i":"rg9","t":54,"v":42000},{"i":"rg9","t":55,"v":43500},{"i":"rg9","t":56,"v":44300},{"i":"rg9","t":57,"v":44700},{"i":"rg9","t":58,"v":45000},{"i":"rg9","t":60,"v":44500},{"i":"rg9","t":65,"v":43000},{"i":"rg9","t":70,"v":41000},{"i":"rg9","t":75,"v":38500},{"i":"rg9","t":80,"v":36000},{"i":"rg9","t":85,"v":33000},
{"i":"rp1","t":25,"v":7500},{"i":"rp1","t":35,"v":6800},{"i":"rp1","t":45,"v":6000},{"i":"rp1","t":48,"v":6800},{"i":"rp1","t":49,"v":8500},{"i":"rp1","t":50,"v":13000},{"i":"rp1","t":51,"v":22000},{"i":"rp1","t":52,"v":32000},{"i":"rp1","t":53,"v":39500},{"i":"rp1","t":54,"v":43500},{"i":"rp1","t":55,"v":45500},{"i":"rp1","t":56,"v":46500},{"i":"rp1","t":57,"v":47000},{"i":"rp1","t":58,"v":47300},{"i":"rp1","t":60,"v":47500},{"i":"rp1","t":65,"v":47000},{"i":"rp1","t":70,"v":46000},{"i":"rp1","t":75,"v":46000},{"i":"rp1","t":80,"v":45000},{"i":"rp1","t":85,"v":42500},
{"i":"rp2","t":25,"v":10400},{"i":"rp2","t":35,"v":10100},{"i":"rp2","t":45,"v":9800},{"i":"rp2","t":48,"v":10500},{"i":"rp2","t":49,"v":12500},{"i":"rp2","t":50,"v":17000},{"i":"rp2","t":51,"v":25000},{"i":"rp2","t":52,"v":33500},{"i":"rp2","t":53,"v":39500},{"i":"rp2","t":54,"v":42500},{"i":"rp2","t":55,"v":44000},{"i":"rp2","t":56,"v":45000},{"i":"rp2","t":57,"v":45500},{"i":"rp2","t":58,"v":45800},{"i":"rp2","t":60,"v":46000},{"i":"rp2","t":65,"v":45500},{"i":"rp2","t":70,"v":45000},{"i":"rp2","t":75,"v":44500},{"i":"rp2","t":80,"v":43500},{"i":"rp2","t":85,"v":41000},
{"i":"rp3","t":25,"v":6500},{"i":"rp3","t":35,"v":6000},{"i":"rp3","t":45,"v":5500},{"i":"rp3","t":48,"v":6000},{"i":"rp3","t":49,"v":7500},{"i":"rp3","t":50,"v":11000},{"i":"rp3","t":51,"v":18000},{"i":"rp3","t":52,"v":26000},{"i":"rp3","t":53,"v":32500},{"i":"rp3","t":54,"v":36000},{"i":"rp3","t":55,"v":38000},{"i":"rp3","t":56,"v":39200},{"i":"rp3","t":57,"v":40000},{"i":"rp3","t":58,"v":40500},{"i":"rp3","t":60,"v":41500},{"i":"rp3","t":65,"v":42500},{"i":"rp3","t":70,"v":43500},{"i":"rp3","t":75,"v":43000},{"i":"rp3","t":80,"v":41500},{"i":"rp3","t":85,"v":39500},
{"i":"rb1","t":25,"v":7000},{"i":"rb1","t":35,"v":6500},{"i":"rb1","t":45,"v":5800},{"i":"rb1","t":48,"v":6200},{"i":"rb1","t":49,"v":7500},{"i":"rb1","t":50,"v":10500},{"i":"rb1","t":51,"v":16500},{"i":"rb1","t":52,"v":24000},{"i":"rb1","t":53,"v":31000},{"i":"rb1","t":54,"v":35500},{"i":"rb1","t":55,"v":38000},{"i":"rb1","t":56,"v":39500},{"i":"rb1","t":57,"v":40500},{"i":"rb1","t":58,"v":41300},{"i":"rb1","t":60,"v":42500},{"i":"rb1","t":65,"v":44000},{"i":"rb1","t":70,"v":45000},{"i":"rb1","t":75,"v":46000},{"i":"rb1","t":80,"v":46000},{"i":"rb1","t":85,"v":44500},
{"i":"rb2","t":25,"v":6000},{"i":"rb2","t":35,"v":5500},{"i":"rb2","t":45,"v":5000},{"i":"rb2","t":48,"v":5300},{"i":"rb2","t":49,"v":6500},{"i":"rb2","t":50,"v":9500},{"i":"rb2","t":51,"v":15500},{"i":"rb2","t":52,"v":23000},{"i":"rb2","t":53,"v":30000},{"i":"rb2","t":54,"v":34500},{"i":"rb2","t":55,"v":37000},{"i":"rb2","t":56,"v":38500},{"i":"rb2","t":57,"v":39500},{"i":"rb2","t":58,"v":40200},{"i":"rb2","t":60,"v":41000},{"i":"rb2","t":65,"v":42200},{"i":"rb2","t":70,"v":43000},{"i":"rb2","t":75,"v":42500},{"i":"rb2","t":80,"v":40500},{"i":"rb2","t":85,"v":38000},
{"i":"rgr1","t":25,"v":8000},{"i":"rgr1","t":35,"v":7200},{"i":"rgr1","t":45,"v":6200},{"i":"rgr1","t":48,"v":6300},{"i":"rgr1","t":49,"v":7000},{"i":"rgr1","t":50,"v":8500},{"i":"rgr1","t":51,"v":11500},{"i":"rgr1","t":52,"v":16500},{"i":"rgr1","t":53,"v":24000},{"i":"rgr1","t":54,"v":31500},{"i":"rgr1","t":55,"v":37000},{"i":"rgr1","t":56,"v":40500},{"i":"rgr1","t":57,"v":43000},{"i":"rgr1","t":58,"v":44500},{"i":"rgr1","t":60,"v":46500},{"i":"rgr1","t":65,"v":48500},{"i":"rgr1","t":70,"v":48000},{"i":"rgr1","t":75,"v":46500},{"i":"rgr1","t":80,"v":43500},{"i":"rgr1","t":85,"v":40000},
{"i":"rgr2","t":25,"v":6500},{"i":"rgr2","t":35,"v":5800},{"i":"rgr2","t":45,"v":5000},{"i":"rgr2","t":48,"v":5100},{"i":"rgr2","t":49,"v":5600},{"i":"rgr2","t":50,"v":7000},{"i":"rgr2","t":51,"v":9500},{"i":"rgr2","t":52,"v":14000},{"i":"rgr2","t":53,"v":21000},{"i":"rgr2","t":54,"v":28000},{"i":"rgr2","t":55,"v":33000},{"i":"rgr2","t":56,"v":36000},{"i":"rgr2","t":57,"v":38000},{"i":"rgr2","t":58,"v":39500},{"i":"rgr2","t":60,"v":41000},{"i":"rgr2","t":65,"v":42500},{"i":"rgr2","t":70,"v":43000},{"i":"rgr2","t":75,"v":41500},{"i":"rgr2","t":80,"v":38500},{"i":"rgr2","t":85,"v":35000},
{"i":"rgr3","t":25,"v":5800},{"i":"rgr3","t":35,"v":5200},{"i":"rgr3","t":45,"v":4700},{"i":"rgr3","t":48,"v":4800},{"i":"rgr3","t":49,"v":5200},{"i":"rgr3","t":50,"v":6200},{"i":"rgr3","t":51,"v":8000},{"i":"rgr3","t":52,"v":11000},{"i":"rgr3","t":53,"v":15000},{"i":"rgr3","t":54,"v":19000},{"i":"rgr3","t":55,"v":22000},{"i":"rgr3","t":56,"v":24000},{"i":"rgr3","t":57,"v":25500},{"i":"rgr3","t":58,"v":27000},{"i":"rgr3","t":60,"v":29500},{"i":"rgr3","t":65,"v":33500},{"i":"rgr3","t":70,"v":36500},{"i":"rgr3","t":75,"v":36800},{"i":"rgr3","t":80,"v":35000},{"i":"rgr3","t":85,"v":33000},
{"i":"rgr4","t":25,"v":7000},{"i":"rgr4","t":35,"v":6300},{"i":"rgr4","t":45,"v":5500},{"i":"rgr4","t":48,"v":5600},{"i":"rgr4","t":49,"v":6200},{"i":"rgr4","t":50,"v":7600},{"i":"rgr4","t":51,"v":10500},{"i":"rgr4","t":52,"v":15500},{"i":"rgr4","t":53,"v":22500},{"i":"rgr4","t":54,"v":29000},{"i":"rgr4","t":55,"v":33500},{"i":"rgr4","t":56,"v":36000},{"i":"rgr4","t":57,"v":37500},{"i":"rgr4","t":58,"v":38500},{"i":"rgr4","t":60,"v":39500},{"i":"rgr4","t":65,"v":40500},{"i":"rgr4","t":70,"v":41000},{"i":"rgr4","t":75,"v":40500},{"i":"rgr4","t":80,"v":38500},{"i":"rgr4","t":85,"v":36500},
{"i":"rl1","t":25,"v":7500},{"i":"rl1","t":35,"v":6800},{"i":"rl1","t":45,"v":5800},{"i":"rl1","t":48,"v":5800},{"i":"rl1","t":49,"v":6300},{"i":"rl1","t":50,"v":7500},{"i":"rl1","t":51,"v":10000},{"i":"rl1","t":52,"v":14500},{"i":"rl1","t":53,"v":21500},{"i":"rl1","t":54,"v":29000},{"i":"rl1","t":55,"v":35000},{"i":"rl1","t":56,"v":38500},{"i":"rl1","t":57,"v":40500},{"i":"rl1","t":58,"v":41800},{"i":"rl1","t":60,"v":43000},{"i":"rl1","t":65,"v":44500},{"i":"rl1","t":70,"v":45500},{"i":"rl1","t":75,"v":45000},{"i":"rl1","t":80,"v":42500},{"i":"rl1","t":85,"v":39000},
{"i":"rl2","t":25,"v":6300},{"i":"rl2","t":35,"v":5700},{"i":"rl2","t":45,"v":5100},{"i":"rl2","t":48,"v":5100},{"i":"rl2","t":49,"v":5400},{"i":"rl2","t":50,"v":6300},{"i":"rl2","t":51,"v":8300},{"i":"rl2","t":52,"v":12000},{"i":"rl2","t":53,"v":18000},{"i":"rl2","t":54,"v":25500},{"i":"rl2","t":55,"v":31500},{"i":"rl2","t":56,"v":35000},{"i":"rl2","t":57,"v":37000},{"i":"rl2","t":58,"v":38200},{"i":"rl2","t":60,"v":39500},{"i":"rl2","t":65,"v":40800},{"i":"rl2","t":70,"v":41500},{"i":"rl2","t":75,"v":41000},{"i":"rl2","t":80,"v":38800},{"i":"rl2","t":85,"v":36000},
{"i":"rl3","t":25,"v":8500},{"i":"rl3","t":35,"v":7700},{"i":"rl3","t":45,"v":6800},{"i":"rl3","t":48,"v":6800},{"i":"rl3","t":49,"v":7200},{"i":"rl3","t":50,"v":8500},{"i":"rl3","t":51,"v":11000},{"i":"rl3","t":52,"v":15500},{"i":"rl3","t":53,"v":22500},{"i":"rl3","t":54,"v":30500},{"i":"rl3","t":55,"v":37000},{"i":"rl3","t":56,"v":40500},{"i":"rl3","t":57,"v":42500},{"i":"rl3","t":58,"v":44000},{"i":"rl3","t":60,"v":45500},{"i":"rl3","t":65,"v":47000},{"i":"rl3","t":70,"v":48000},{"i":"rl3","t":75,"v":47500},{"i":"rl3","t":80,"v":45500},{"i":"rl3","t":85,"v":43000},
{"i":"ry1","t":25,"v":9000},{"i":"ry1","t":35,"v":8200},{"i":"ry1","t":45,"v":7000},{"i":"ry1","t":48,"v":7000},{"i":"ry1","t":49,"v":7500},{"i":"ry1","t":50,"v":9000},{"i":"ry1","t":51,"v":12500},{"i":"ry1","t":52,"v":19000},{"i":"ry1","t":53,"v":28500},{"i":"ry1","t":54,"v":38000},{"i":"ry1","t":55,"v":44500},{"i":"ry1","t":56,"v":48000},{"i":"ry1","t":57,"v":50000},{"i":"ry1","t":58,"v":51500},{"i":"ry1","t":60,"v":53500},{"i":"ry1","t":65,"v":56000},{"i":"ry1","t":70,"v":57000},{"i":"ry1","t":75,"v":56500},{"i":"ry1","t":80,"v":54000},{"i":"ry1","t":85,"v":50000},
{"i":"ry2","t":25,"v":14400},{"i":"ry2","t":35,"v":13600},{"i":"ry2","t":45,"v":12700},{"i":"ry2","t":48,"v":12500},{"i":"ry2","t":49,"v":13000},{"i":"ry2","t":50,"v":14500},{"i":"ry2","t":51,"v":17500},{"i":"ry2","t":52,"v":23000},{"i":"ry2","t":53,"v":30500},{"i":"ry2","t":54,"v":37500},{"i":"ry2","t":55,"v":42000},{"i":"ry2","t":56,"v":44500},{"i":"ry2","t":57,"v":46000},{"i":"ry2","t":58,"v":47000},{"i":"ry2","t":60,"v":48500},{"i":"ry2","t":65,"v":50500},{"i":"ry2","t":70,"v":52500},{"i":"ry2","t":75,"v":53500},{"i":"ry2","t":80,"v":52000},{"i":"ry2","t":85,"v":48500},
{"i":"ry3","t":25,"v":7000},{"i":"ry3","t":35,"v":6300},{"i":"ry3","t":45,"v":5500},{"i":"ry3","t":48,"v":5400},{"i":"ry3","t":49,"v":5700},{"i":"ry3","t":50,"v":6800},{"i":"ry3","t":51,"v":9000},{"i":"ry3","t":52,"v":13000},{"i":"ry3","t":53,"v":19500},{"i":"ry3","t":54,"v":27000},{"i":"ry3","t":55,"v":33500},{"i":"ry3","t":56,"v":38000},{"i":"ry3","t":57,"v":40500},{"i":"ry3","t":58,"v":42000},{"i":"ry3","t":60,"v":43500},{"i":"ry3","t":65,"v":45500},{"i":"ry3","t":70,"v":46800},{"i":"ry3","t":75,"v":47000},{"i":"ry3","t":80,"v":45000},{"i":"ry3","t":85,"v":42000},
{"i":"ry4","t":25,"v":34300},{"i":"ry4","t":29,"v":37000},{"i":"ry4","t":32,"v":38300},{"i":"ry4","t":36,"v":41300},{"i":"ry4","t":40,"v":41800},{"i":"ry4","t":42,"v":41400},{"i":"ry4","t":45,"v":42000},{"i":"ry4","t":47,"v":41800},{"i":"ry4","t":49,"v":43000},{"i":"ry4","t":51,"v":43500},{"i":"ry4","t":52,"v":44000},{"i":"ry4","t":53,"v":49000},{"i":"ry4","t":54,"v":57000},{"i":"ry4","t":55,"v":63500},{"i":"ry4","t":56,"v":67500},{"i":"ry4","t":57,"v":70000},{"i":"ry4","t":58,"v":71200},{"i":"ry4","t":60,"v":72200},{"i":"ry4","t":62,"v":72400},{"i":"ry4","t":65,"v":71500},{"i":"ry4","t":70,"v":70000},{"i":"ry4","t":75,"v":65500},{"i":"ry4","t":80,"v":60000},{"i":"ry4","t":85,"v":52100}
],
"buf":[
{"i":"bt","t":25,"v":23000},{"i":"bt","t":30,"v":25000},{"i":"bt","t":35,"v":26000},{"i":"bt","t":40,"v":25500},{"i":"bt","t":45,"v":24500},{"i":"bt","t":50,"v":24500},{"i":"bt","t":55,"v":23000},{"i":"bt","t":60,"v":22000},{"i":"bt","t":65,"v":21000},{"i":"bt","t":70,"v":19000},{"i":"bt","t":75,"v":17500},{"i":"bt","t":80,"v":16500},{"i":"bt","t":85,"v":15000},
{"i":"bp","t":25,"v":12700},{"i":"bp","t":30,"v":12400},{"i":"bp","t":35,"v":12000},{"i":"bp","t":40,"v":11600},{"i":"bp","t":45,"v":11200},{"i":"bp","t":50,"v":10800},{"i":"bp","t":55,"v":10300},{"i":"bp","t":60,"v":9800},{"i":"bp","t":65,"v":9300},{"i":"bp","t":70,"v":9000},{"i":"bp","t":75,"v":8700},{"i":"bp","t":80,"v":8500},{"i":"bp","t":85,"v":8300},
{"i":"bt2","t":25,"v":9200},{"i":"bt2","t":30,"v":9000},{"i":"bt2","t":35,"v":8700},{"i":"bt2","t":40,"v":8300},{"i":"bt2","t":45,"v":8000},{"i":"bt2","t":50,"v":8000},{"i":"bt2","t":55,"v":8200},{"i":"bt2","t":60,"v":8300},{"i":"bt2","t":65,"v":8300},{"i":"bt2","t":70,"v":8400},{"i":"bt2","t":75,"v":8500},{"i":"bt2","t":80,"v":8500},{"i":"bt2","t":85,"v":8600},
{"i":"bb1","t":25,"v":8000},{"i":"bb1","t":30,"v":7800},{"i":"bb1","t":35,"v":7500},{"i":"bb1","t":40,"v":7200},{"i":"bb1","t":45,"v":7000},{"i":"bb1","t":50,"v":6900},{"i":"bb1","t":55,"v":7200},{"i":"bb1","t":60,"v":7300},{"i":"bb1","t":65,"v":7300},{"i":"bb1","t":70,"v":7300},{"i":"bb1","t":75,"v":7200},{"i":"bb1","t":80,"v":7300},{"i":"bb1","t":85,"v":7400},
{"i":"bb2","t":25,"v":7000},{"i":"bb2","t":30,"v":6800},{"i":"bb2","t":35,"v":6500},{"i":"bb2","t":40,"v":6300},{"i":"bb2","t":45,"v":6200},{"i":"bb2","t":50,"v":6200},{"i":"bb2","t":55,"v":6600},{"i":"bb2","t":60,"v":6700},{"i":"bb2","t":65,"v":6700},{"i":"bb2","t":70,"v":6600},{"i":"bb2","t":75,"v":6500},{"i":"bb2","t":80,"v":6600},{"i":"bb2","t":85,"v":6700},
{"i":"bp2","t":25,"v":7500},{"i":"bp2","t":30,"v":7300},{"i":"bp2","t":35,"v":7000},{"i":"bp2","t":40,"v":6800},{"i":"bp2","t":45,"v":6600},{"i":"bp2","t":50,"v":6800},{"i":"bp2","t":55,"v":7500},{"i":"bp2","t":60,"v":7800},{"i":"bp2","t":65,"v":7600},{"i":"bp2","t":70,"v":7400},{"i":"bp2","t":75,"v":7200},{"i":"bp2","t":80,"v":7000},{"i":"bp2","t":85,"v":7000}
],
"tm":[
{"c":"1.0","x":1,"tm":52.6},{"c":"1.0","x":1,"tm":52.5},{"c":"1.0","x":1,"tm":52.4},{"c":"1.0","x":1,"tm":52.3},{"c":"1.0","x":1,"tm":52.2},{"c":"1.0","x":1,"tm":52.1},{"c":"1.0","x":1,"tm":52.0},{"c":"1.0","x":1,"tm":51.95},
{"c":"7.5","x":7.5,"tm":52.67},{"c":"7.5","x":7.5,"tm":52.51},
{"c":"0","x":0,"tm":55.24},{"c":"0","x":0,"tm":54.32},{"c":"0","x":0,"tm":54.2},{"c":"0","x":0,"tm":54.1},{"c":"0","x":0,"tm":53.16},{"c":"0","x":0,"tm":52.88},{"c":"0","x":0,"tm":52.36},{"c":"0","x":0,"tm":52.3},{"c":"0","x":0,"tm":51.55},{"c":"0","x":0,"tm":51.47},{"c":"0","x":0,"tm":51.35},{"c":"0","x":0,"tm":51.24},{"c":"0","x":0,"tm":51.16},{"c":"0","x":0,"tm":51.04},{"c":"0","x":0,"tm":50.52},{"c":"0","x":0,"tm":50.4},{"c":"0","x":0,"tm":50.32},{"c":"0","x":0,"tm":50.2},{"c":"0","x":0,"tm":50.12},
{"c":"75.0","x":75,"tm":56.43},{"c":"75.0","x":75,"tm":54.94},{"c":"75.0","x":75,"tm":54.7},{"c":"75.0","x":75,"tm":54.58},{"c":"75.0","x":75,"tm":54.5},{"c":"75.0","x":75,"tm":54.1},{"c":"75.0","x":75,"tm":53.62},{"c":"75.0","x":75,"tm":53.58},{"c":"75.0","x":75,"tm":52.39},
{"c":"150.0","x":150,"tm":56.1},{"c":"150.0","x":150,"tm":55.98},{"c":"150.0","x":150,"tm":55.78},{"c":"150.0","x":150,"tm":55.34},{"c":"150.0","x":150,"tm":55.22},{"c":"150.0","x":150,"tm":55.02},{"c":"150.0","x":150,"tm":54.9},{"c":"150.0","x":150,"tm":54.6},{"c":"150.0","x":150,"tm":54.38},
{"c":"300.0","x":300,"tm":57.01},{"c":"300.0","x":300,"tm":56.1},{"c":"300.0","x":300,"tm":55.7},{"c":"300.0","x":300,"tm":55.62},{"c":"300.0","x":300,"tm":55.5},{"c":"300.0","x":300,"tm":55.46},{"c":"300.0","x":300,"tm":54.82}
]
},
"resolve":{"scale":{"color":"shared","strokeDash":"shared"},"legend":{"color":"shared","strokeDash":"shared"}},
"spacing":57,
"hconcat":[
{"bounds":"flush","spacing":110,"vconcat":[
{"width":528,"height":369,
"title":{"text":"Normalized DSF data","offset":16},
"encoding":{
"x":{"field":"t","type":"quantitative","scale":{"domain":[22,88]},"axis":{"values":[40,60,80],"title":null,"zindex":1}},
"y":{"field":"v","type":"quantitative","scale":{"domain":[-0.05,1.05]},"axis":{"values":[0,0.25,0.5,0.75,1],"format":".2f","title":"RFU (FAM)","titleY":424,"titlePadding":10}}},
"layer":[
{"data":{"name":"win"},"mark":{"type":"rect","color":"#EBEBEB","opacity":1},"encoding":{"x2":{"field":"t2"},"y2":{"field":"v2"}}},
{"data":{"name":"trap"},"mark":{"type":"area","orient":"horizontal","color":"#EBEBEB","opacity":1,"clip":false},"encoding":{"x2":{"field":"t2"}}},
{"data":{"name":"norm"},"transform":[{"lookup":"i","from":{"data":{"name":"curves"},"key":"i","fields":["c"]}}],"mark":{"type":"line","clip":true},
"encoding":{"detail":{"field":"i","type":"nominal"},
"color":{"field":"c","type":"nominal","scale":{"domain":["300.0","150.0","75.0","7.5","1.0","0","Bt","Bp","Bt2","Bb1","Bb2","Bp2"],"range":["#FDE725","#ADDC30","#63CB5F","#33638D","#440154","#808080","#4E9CB0","#6E62A3","#3B8C9A","#3E5A93","#38457F","#5E4D93"]},"legend":{"title":"[Compound] (μM)","values":["300.0","150.0","75.0","7.5","1.0"],"orient":"none","legendX":1276.5,"legendY":273,"symbolType":"circle","symbolSize":90,"symbolOffset":11.7,"labelOffset":25.7,"rowPadding":22,"titlePadding":26,"symbolOpacity":1,"encode":{"symbols":{"update":{"fill":{"scale":"color","field":"value"},"stroke":{"value":"transparent"},"opacity":{"value":1}}}}}}}}
]},
{"width":528,"height":370,
"data":{"name":"norm"},"transform":[{"lookup":"i","from":{"data":{"name":"curves"},"key":"i","fields":["c"]}}],
"mark":{"type":"line","clip":true},
"encoding":{
"x":{"field":"t","type":"quantitative","scale":{"domain":[44.25,60.75]},"axis":{"values":[45,50,55,60],"title":"Temperaure (ºC)","titlePadding":6}},
"y":{"field":"v","type":"quantitative","scale":{"domain":[-0.05,1.05]},"axis":{"values":[0,0.25,0.5,0.75,1],"format":".2f","title":null}},
"detail":{"field":"i","type":"nominal"},
"color":{"field":"c","type":"nominal","scale":{"domain":["300.0","150.0","75.0","7.5","1.0","0","Bt","Bp","Bt2","Bb1","Bb2","Bp2"],"range":["#FDE725","#ADDC30","#63CB5F","#33638D","#440154","#808080","#4E9CB0","#6E62A3","#3B8C9A","#3E5A93","#38457F","#5E4D93"]},"legend":{"title":"[Compound] (μM)","values":["300.0","150.0","75.0","7.5","1.0"],"orient":"none","legendX":1276.5,"legendY":273,"symbolType":"circle","symbolSize":90,"symbolOffset":11.7,"labelOffset":25.7,"rowPadding":22,"titlePadding":26,"symbolOpacity":1,"encode":{"symbols":{"update":{"fill":{"scale":"color","field":"value"},"stroke":{"value":"transparent"},"opacity":{"value":1}}}}}}}}
]},
{"spacing":49,"vconcat":[
{"bounds":"flush","spacing":38.7,"vconcat":[
{"width":510,"height":1,"title":{"text":"Thermal shift","offset":16},"data":{"values":[]},"mark":"point","encoding":{},"view":{"stroke":null}},
{"width":510,"height":314,
"title":{"text":"Spearman est: 0.81, adj p: 9.8e−16","fontWeight":"normal","offset":16},
"data":{"name":"tm"},
"mark":{"type":"point","filled":true,"size":150,"opacity":1},
"encoding":{
"x":{"field":"x","type":"quantitative","scale":{"domain":[-15,315]},"axis":{"values":[0,100,200,300],"title":"[Compound] μM","titlePadding":6}},
"y":{"field":"tm","type":"quantitative","scale":{"domain":[49.78,57.35]},"axis":{"values":[50,52,54,56],"title":"Apparent Tm (ºC)","titlePadding":10}},
"color":{"field":"c","type":"nominal","scale":{"domain":["300.0","150.0","75.0","7.5","1.0","0","Bt","Bp","Bt2","Bb1","Bb2","Bp2"],"range":["#FDE725","#ADDC30","#63CB5F","#33638D","#440154","#808080","#4E9CB0","#6E62A3","#3B8C9A","#3E5A93","#38457F","#5E4D93"]},"legend":{"title":"[Compound] (μM)","values":["300.0","150.0","75.0","7.5","1.0"],"orient":"none","legendX":1276.5,"legendY":273,"symbolType":"circle","symbolSize":90,"symbolOffset":11.7,"labelOffset":25.7,"rowPadding":22,"titlePadding":26,"symbolOpacity":1,"encode":{"symbols":{"update":{"fill":{"scale":"color","field":"value"},"stroke":{"value":"transparent"},"opacity":{"value":1}}}}}}}}
]},
{"bounds":"flush","spacing":20,"hconcat":[
{"width":1,"height":1,"data":{"values":[]},"mark":"point","encoding":{},"view":{"stroke":null}},
{"width":509,"height":313,
"title":{"text":"Raw DSF data","offset":16},
"encoding":{
"x":{"field":"t","type":"quantitative","scale":{"domain":[22,88]},"axis":{"values":[40,60,80],"title":"Temperaure (ºC)","titlePadding":6}},
"y":{"field":"v","type":"quantitative","scale":{"domain":[1235,75309]},"axis":{"values":[20000,40000,60000],"format":"d","title":"RFU (FAM)","titlePadding":14}},
"detail":{"field":"i","type":"nominal"},
"color":{"field":"c","type":"nominal","scale":{"domain":["300.0","150.0","75.0","7.5","1.0","0","Bt","Bp","Bt2","Bb1","Bb2","Bp2"],"range":["#FDE725","#ADDC30","#63CB5F","#33638D","#440154","#808080","#4E9CB0","#6E62A3","#3B8C9A","#3E5A93","#38457F","#5E4D93"]},"legend":{"title":"[Compound] (μM)","values":["300.0","150.0","75.0","7.5","1.0"],"orient":"none","legendX":1276.5,"legendY":273,"symbolType":"circle","symbolSize":90,"symbolOffset":11.7,"labelOffset":25.7,"rowPadding":22,"titlePadding":26,"symbolOpacity":1,"encode":{"symbols":{"update":{"fill":{"scale":"color","field":"value"},"stroke":{"value":"transparent"},"opacity":{"value":1}}}}}}},
"layer":[
{"data":{"name":"raw"},"transform":[{"lookup":"i","from":{"data":{"name":"curves"},"key":"i","fields":["c"]}}],"mark":{"type":"line","clip":true,"strokeWidth":1.9},
"encoding":{"strokeDash":{"datum":"1 μM nsp3 mac1","type":"nominal","scale":{"domain":["Buffer","1 μM nsp3 mac1"],"range":[[12,8],[1,0]]},"legend":{"title":null,"orient":"none","legendX":1276.5,"legendY":695.6,"symbolType":"stroke","symbolSize":1777,"symbolStrokeColor":"#4D4D4D","symbolStrokeWidth":2,"symbolOffset":0,"labelOffset":11,"rowPadding":11}}}},
{"data":{"name":"buf"},"transform":[{"lookup":"i","from":{"data":{"name":"curves"},"key":"i","fields":["c"]}}],"mark":{"type":"line","clip":true,"strokeWidth":2.3},
"encoding":{"strokeDash":{"datum":"Buffer","type":"nominal","scale":{"domain":["Buffer","1 μM nsp3 mac1"],"range":[[12,8],[1,0]]},"legend":{"title":null,"orient":"none","legendX":1276.5,"legendY":695.6,"symbolType":"stroke","symbolSize":1777,"symbolStrokeColor":"#4D4D4D","symbolStrokeWidth":2,"symbolOffset":0,"labelOffset":11,"rowPadding":11}}}}
]}
]}
]}
]
}
